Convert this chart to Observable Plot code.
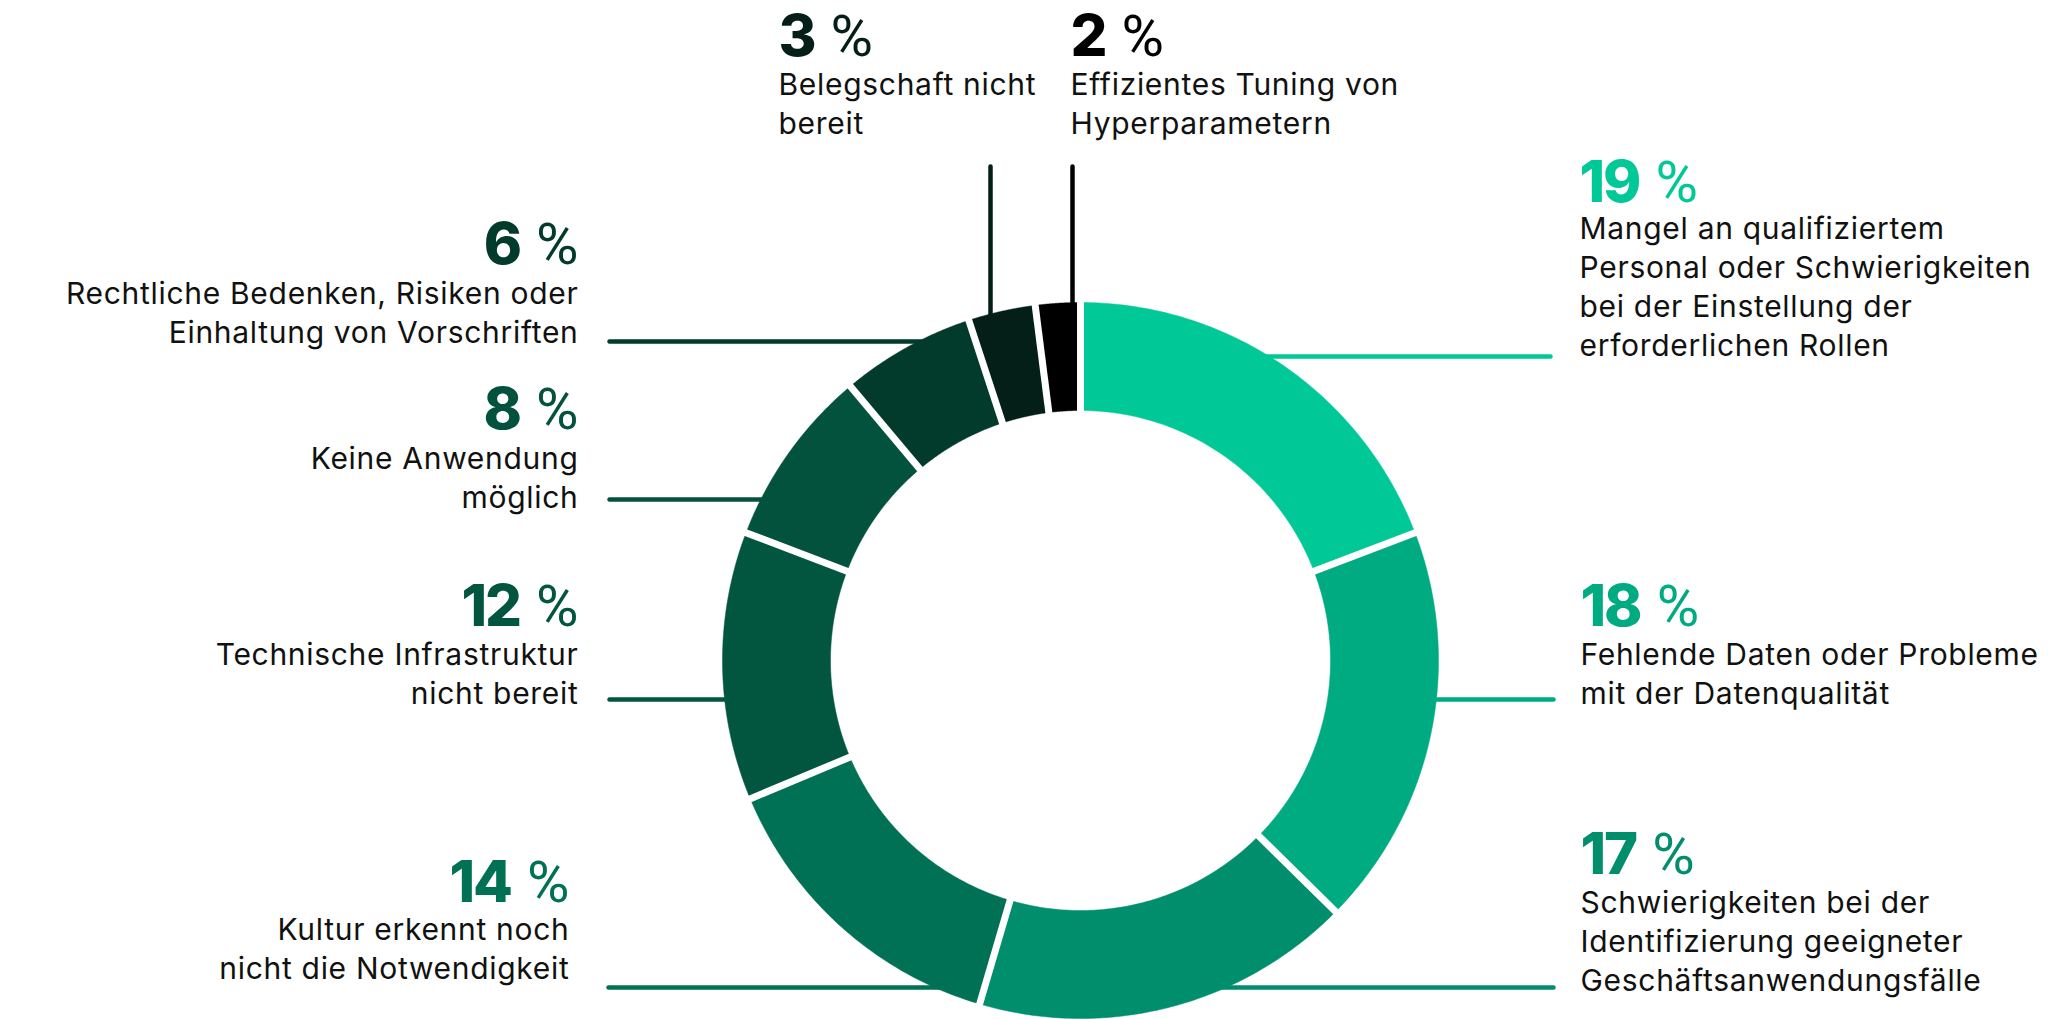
<!DOCTYPE html>
<html>
<head>
<meta charset="utf-8">
<script src="https://cdn.jsdelivr.net/npm/d3@7"></script>
<script src="https://cdn.jsdelivr.net/npm/@observablehq/plot@0.6"></script>
<style>
  html, body { margin: 0; padding: 0; background: #fff; }
  svg { display: block; }
</style>
</head>
<body>
<div id="chart"></div>
<script>
// ---------- data ----------
const categories = [
  "Mangel an qualifiziertem\nPersonal oder Schwierigkeiten\nbei der Einstellung der\nerforderlichen Rollen",
  "Fehlende Daten oder Probleme\nmit der Datenqualität",
  "Schwierigkeiten bei der\nIdentifizierung geeigneter\nGeschäftsanwendungsfälle",
  "Kultur erkennt noch\nnicht die Notwendigkeit",
  "Technische Infrastruktur\nnicht bereit",
  "Keine Anwendung\nmöglich",
  "Rechtliche Bedenken, Risiken oder\nEinhaltung von Vorschriften",
  "Belegschaft nicht\nbereit",
  "Effizientes Tuning von\nHyperparametern"
];
const values = [19, 18, 17, 14, 12, 8, 6, 3, 2];
const colors = ["#00c896", "#00ab82", "#008e6c", "#007154", "#025640", "#03523e", "#023a2b", "#031f18", "#000000"];

// ---------- layout (positions, not data) ----------
const W = 2048, H = 1019;
const cx = 1080, cy = 660, R = 358, r0 = 250, gap = 7;
const layout = [
  {anchor: "start", x: 1579, numY: 201, textY: 355, leader: {dir: "h", at: 356, end: 1550}},
  {anchor: "start", x: 1580, numY: 625, textY: 703, leader: {dir: "h", at: 699, end: 1553}},
  {anchor: "start", x: 1580, numY: 873, textY: 990, leader: {dir: "h", at: 987, end: 1553}},
  {anchor: "end",   x: 569,  numY: 901, textY: 978, leader: {dir: "h", at: 987, end: 608}},
  {anchor: "end",   x: 578,  numY: 625, textY: 703, leader: {dir: "h", at: 699, end: 609}},
  {anchor: "end",   x: 578,  numY: 428, textY: 507, leader: {dir: "h", at: 499, end: 609}},
  {anchor: "end",   x: 578,  numY: 263, textY: 342, leader: {dir: "h", at: 341, end: 609}},
  {anchor: "start", x: 778,  numY: 55,  textY: 133, leader: {dir: "v", at: 990, end: 166}},
  {anchor: "start", x: 1070, numY: 55,  textY: 133, leader: {dir: "v", at: 1072, end: 166}}
];

// ---------- build tables ----------
const rows = values.map((v, i) => ({key: i, value: v, label: categories[i], color: colors[i], ...layout[i]}));
const arcs = d3.pie().sort(null).value(d => d.value)(rows);
const pt = (a, rad) => ({x: cx + rad * Math.sin(a), y: cy - rad * Math.cos(a)});

const slicePts = [];
for (const a of arcs) {
  const n = 80;
  const pts = [];
  for (let k = 0; k <= n; k++) pts.push(pt(a.startAngle + (a.endAngle - a.startAngle) * k / n, R));
  for (let k = n; k >= 0; k--) pts.push(pt(a.startAngle + (a.endAngle - a.startAngle) * k / n, r0));
  pts.push(pts[0]);
  for (const p of pts) slicePts.push({...p, key: a.data.key, color: a.data.color});
}
const gaps = arcs.map(a => {
  const p1 = pt(a.startAngle, r0 - 3), p2 = pt(a.startAngle, R + 3);
  return {x1: p1.x, y1: p1.y, x2: p2.x, y2: p2.y};
});
const leaders = rows.map(d => {
  const L = d.leader;
  if (L.dir === "h") {
    const half = Math.sqrt(R * R - (L.at - cy) ** 2);
    const edge = L.end > cx ? cx + half - 15 : cx - half + 15;
    return {x1: edge, y1: L.at, x2: L.end, y2: L.at, color: d.color};
  } else {
    const half = Math.sqrt(R * R - (L.at - cx) ** 2);
    return {x1: L.at, y1: cy - half + 15, x2: L.at, y2: L.end, color: d.color};
  }
});

const startRows = rows.filter(d => d.anchor === "start");
const endRows = rows.filter(d => d.anchor === "end");

const numFont = 58, txtFont = 30;
const numMarks = (data, anchor) => Plot.text(data, {
  x: "x", y: "numY", text: d => `${d.value} %`, fill: "color",
  textAnchor: anchor, lineAnchor: "bottom", fontSize: numFont, fontWeight: 800
});
const txtMarks = (data, anchor) => Plot.text(data, {
  x: "x", y: "textY", text: "label", fill: "#111",
  textAnchor: anchor, lineAnchor: "bottom", fontSize: txtFont, lineHeight: 38.7 / txtFont
});

const svg = Plot.plot({
  width: W, height: H,
  margin: 0,
  x: {domain: [0, W], range: [0, W], axis: null},
  y: {domain: [0, H], range: [0, H], axis: null},
  color: {type: "identity"},
  style: {background: "#fff", fontFamily: "Inter, 'Noto Sans', sans-serif", color: "#111"},
  marks: [
    Plot.link(leaders, {x1: "x1", y1: "y1", x2: "x2", y2: "y2", stroke: "color", strokeWidth: 4.5, strokeLinecap: "round"}),
    Plot.line(slicePts, {x: "x", y: "y", z: "key", fill: "color", stroke: "color", strokeWidth: 0.5, curve: "linear"}),
    Plot.link(gaps, {x1: "x1", y1: "y1", x2: "x2", y2: "y2", stroke: "#fff", strokeWidth: gap}),
    numMarks(startRows, "start"),
    numMarks(endRows, "end"),
    txtMarks(startRows, "start"),
    txtMarks(endRows, "end")
  ]
});

// bold number + regular, narrower percent sign; slightly wider body text
d3.select(svg).selectAll("text").each(function () {
  const t = this.textContent;
  const m = /^(\d+) %$/.exec(t);
  const sel = d3.select(this);
  if (!m) { sel.attr("letter-spacing", "0.7px"); return; }
  sel.text(null);
  sel.append("tspan").attr("font-weight", 800).attr("letter-spacing", "-2px").text(m[1]);
  sel.append("tspan").attr("dx", 16).attr("font-weight", 400)
    .attr("font-family", "Roboto, sans-serif").attr("font-size", 58).text("%");
});

document.getElementById("chart").appendChild(svg);
</script>
</body>
</html>
